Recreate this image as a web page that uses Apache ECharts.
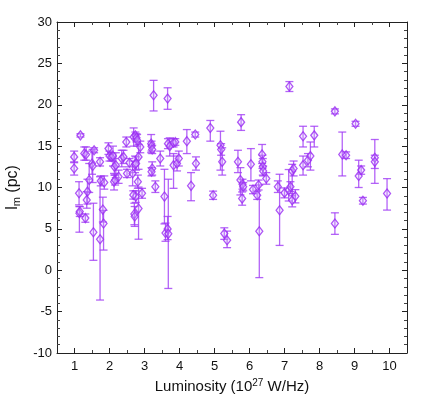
<!DOCTYPE html>
<html>
<head>
<meta charset="utf-8">
<script src="https://cdn.jsdelivr.net/npm/echarts@6/dist/echarts.min.js"></script>
<style>
  html, body { margin: 0; padding: 0; background: #fff; }
  #chart { width: 436px; height: 396px; }
</style>
</head>
<body>
<div id="chart"></div>
<script>
// luminosity (10^27 W/Hz), l_m (pc) and asymmetric errors
const lum = [
  0.99, 0.99, 1.17, 1.28, 1.33, 1.13, 1.37, 1.35, 1.14, 1.15, 1.31, 1.50, 1.52, 1.56, 1.54, 1.73, 1.73, 1.75, 1.85, 1.81, 1.83, 1.42,
  1.97, 2.00, 2.05, 2.10, 2.13, 2.16, 2.14, 2.18, 2.26, 2.35, 2.40, 2.48, 2.50, 2.57, 2.66, 2.69, 2.74, 2.77, 2.79, 2.88,
  2.73, 2.76, 2.81, 2.83, 2.71, 2.72, 2.75, 2.83, 2.93, 2.68,
  3.26, 3.66, 3.19, 3.20, 3.22, 3.22, 3.20, 3.31, 3.45, 3.57, 3.60, 3.66, 3.68, 3.67, 3.72, 3.83, 3.88, 3.83, 3.93, 3.98,
  4.21, 4.45, 4.33, 4.47, 4.88, 4.96,
  5.17, 5.19, 5.22, 5.28, 5.36, 5.76, 5.67, 5.74, 5.80, 5.82, 5.79,
  6.04, 6.10, 6.22, 6.26, 6.28, 6.36, 6.37, 6.38, 6.39, 6.48, 6.81, 6.86, 7.00, 7.12, 7.14, 7.17,
  7.22, 7.26, 7.22, 7.31, 7.53, 7.53, 7.67, 7.74, 7.85,
  8.44, 8.44, 8.65, 8.76, 9.03, 9.12, 9.19, 9.24, 9.58, 9.58, 9.93
];
const lm = [
  13.7, 12.3, 16.3, 14.1, 14.0, 9.3, 9.5, 8.5, 6.9, 7.1, 6.3, 12.9, 12.6, 14.5, 4.6, 13.1, 3.75, 10.8, 10.6, 7.33, 5.64, 10.9,
  14.7, 13.8, 13.7, 13.8, 10.7, 10.9, 12.5, 12.7, 11.3, 13.5, 13.7, 15.5, 11.7, 13.0, 11.7, 16.1, 16.3, 16.0, 15.7, 14.9,
  12.8, 12.9, 10.7, 13.7, 6.8, 6.5, 8.9, 7.45, 9.3, 9.1,
  21.15, 20.75, 15.3, 15.0, 14.6, 12.3, 11.9, 10.1, 13.5, 8.9, 4.5, 5.0, 4.4, 15.3, 15.0, 15.4, 15.5, 12.7, 12.9, 13.5,
  15.6, 16.4, 10.2, 12.9, 17.2, 9.06,
  15.1, 14.6, 13.1, 4.43, 3.63, 17.9, 13.1, 10.9, 10.4, 10.1, 8.66,
  12.8, 9.75, 9.06, 10.3, 4.71, 14.0, 13.1, 12.5, 12.0, 11.1, 10.1, 7.25, 9.35, 9.67, 22.2, 10.1,
  12.0, 12.3, 8.46, 8.94, 16.2, 12.7, 13.3, 13.8, 16.3,
  19.2, 5.64, 14.0, 13.9, 17.7, 11.4, 12.1, 8.4, 13.6, 13.1, 9.27
];
const errLow = [
  0.7, 0.8, 0.2, 0.8, 0.7, 1.4, 1.5, 1.0, 2.3, 0.6, 0.5, 1.3, 2.0, 0.3, 3.4, 0.5, 7.35, 0.6, 0.8, 1.5, 3.2, 1.5,
  0.7, 0.6, 0.5, 1.2, 1.0, 0.6, 1.0, 1.5, 0.8, 1.0, 0.8, 0.6, 0.5, 0.5, 1.5, 1.1, 0.4, 0.5, 0.7, 0.7,
  1.0, 0.8, 0.8, 1.5, 1.3, 1.2, 0.7, 3.7, 0.6, 0.5,
  1.9, 1.3, 1.1, 0.6, 0.5, 0.8, 0.5, 0.7, 0.9, 3.3, 1.0, 1.3, 6.6, 0.6, 1.2, 0.5, 0.4, 2.8, 0.9, 0.9,
  1.5, 0.3, 1.8, 0.8, 1.6, 0.5,
  3.0, 0.7, 1.6, 0.7, 0.9, 1.0, 1.3, 1.8, 0.6, 0.5, 0.8,
  2.0, 0.5, 0.5, 0.6, 5.6, 1.1, 0.8, 1.0, 0.6, 0.7, 0.7, 4.25, 0.6, 1.3, 0.6, 0.6,
  3.0, 0.9, 0.8, 0.8, 1.3, 1.2, 0.8, 1.7, 1.4,
  0.3, 1.3, 2.6, 0.4, 0.3, 1.4, 0.5, 0.4, 3.1, 0.8, 2.0
];
const errHigh = [
  0.7, 0.8, 0.2, 0.8, 0.9, 1.4, 1.5, 1.0, 0.8, 0.6, 0.5, 1.5, 2.0, 0.3, 3.5, 0.5, 7.55, 0.6, 0.8, 1.5, 1.6, 2.0,
  0.7, 0.6, 0.5, 1.2, 1.0, 0.6, 1.0, 1.5, 0.8, 1.0, 0.8, 0.6, 0.5, 0.5, 1.5, 1.1, 0.4, 0.5, 0.7, 0.7,
  1.0, 0.8, 0.8, 1.5, 1.3, 1.2, 0.7, 2.6, 0.6, 0.5,
  1.8, 1.3, 1.1, 0.6, 0.5, 0.8, 0.5, 0.7, 0.9, 3.3, 1.2, 1.5, 6.6, 0.6, 1.0, 0.5, 0.4, 1.4, 0.9, 0.9,
  1.4, 0.3, 1.6, 0.8, 0.9, 0.5,
  1.7, 0.7, 1.7, 0.7, 1.1, 0.9, 1.4, 1.5, 0.6, 0.5, 0.8,
  1.9, 0.5, 0.5, 0.6, 5.6, 1.2, 0.8, 1.0, 0.6, 0.7, 0.7, 4.35, 0.6, 2.5, 0.6, 0.6,
  0.8, 0.9, 0.8, 0.8, 1.2, 1.1, 0.8, 1.7, 1.1,
  0.3, 1.3, 2.7, 0.4, 0.3, 1.9, 0.5, 0.4, 2.2, 0.8, 1.8
];

const purple = '#9a2cf2';
const barColor = 'rgba(160, 60, 245, 0.8)';
const font = 'Liberation Sans, Arial, sans-serif';

const points = lum.map((x, i) => [x, lm[i]]);
const bars = lum.map((x, i) => [x, lm[i] - errLow[i], lm[i] + errHigh[i]]);

function renderErrorBar(params, api) {
  const x = api.value(0);
  const lo = api.coord([x, api.value(1)]);
  const hi = api.coord([x, api.value(2)]);
  const cap = 4;
  const style = { stroke: barColor, lineWidth: 1.3, fill: null };
  return {
    type: 'group',
    children: [
      { type: 'line', shape: { x1: lo[0], y1: lo[1], x2: hi[0], y2: hi[1] }, style },
      { type: 'line', shape: { x1: lo[0] - cap, y1: lo[1], x2: lo[0] + cap, y2: lo[1] }, style },
      { type: 'line', shape: { x1: hi[0] - cap, y1: hi[1], x2: hi[0] + cap, y2: hi[1] }, style }
    ]
  };
}

const tickIn = { show: true, inside: true, length: 5, lineStyle: { color: '#222' } };
const minorIn = { show: true, length: 3, lineStyle: { color: '#444' } };
const axisLine = { show: true, onZero: false, lineStyle: { color: '#222', width: 1 } };
// x ticks fall on whole numbers; the 0.5 / 10.5 ends carry no label
const intLabel = v => (Math.abs(v - Math.round(v)) < 1e-6 ? String(Math.round(v)) : '');

const chart = echarts.init(document.getElementById('chart'));
chart.setOption({
  backgroundColor: '#fff',
  animation: false,
  grid: { left: 57, right: 29, top: 22, bottom: 43, outerBoundsMode: 'none', containLabel: false },
  xAxis: [
    {
      type: 'value', min: 0.5, max: 10.5, splitNumber: 10,
      axisLine, axisTick: tickIn, minorTick: Object.assign({ splitNumber: 2 }, minorIn),
      splitLine: { show: false },
      axisLabel: { color: '#111', fontSize: 13, fontFamily: font, margin: 7, formatter: intLabel },
      name: '{a|Luminosity (10}{sup|27}{a| W/Hz)}',
      nameLocation: 'middle', nameGap: 25,
      nameTextStyle: {
        rich: {
          a: { fontSize: 15, fontFamily: font, color: '#111', lineHeight: 18 },
          sup: { fontSize: 10, fontFamily: font, color: '#111', verticalAlign: 'top', lineHeight: 18, padding: [0, 0, 8, 0] }
        }
      }
    },
    {
      type: 'value', position: 'top', min: 0.5, max: 10.5, splitNumber: 10,
      axisLine, axisTick: tickIn, minorTick: Object.assign({ splitNumber: 2 }, minorIn),
      splitLine: { show: false }, axisLabel: { show: false }
    }
  ],
  yAxis: [
    {
      type: 'value', min: -10, max: 30, interval: 5,
      axisLine, axisTick: tickIn, minorTick: Object.assign({ splitNumber: 5 }, minorIn),
      splitLine: { show: false },
      axisLabel: { color: '#111', fontSize: 13, fontFamily: font, margin: 5 },
      name: '{a|l}{sub|m}{a| (pc)}',
      nameLocation: 'middle', nameGap: 29, nameRotate: 90,
      nameTextStyle: {
        rich: {
          a: { fontSize: 16, fontFamily: font, color: '#111', lineHeight: 20 },
          sub: { fontSize: 11, fontFamily: font, color: '#111', verticalAlign: 'bottom', lineHeight: 20, padding: [6, 0, 0, 0] }
        }
      }
    },
    {
      type: 'value', position: 'right', min: -10, max: 30, interval: 5,
      axisLine, axisTick: tickIn, minorTick: Object.assign({ splitNumber: 5 }, minorIn),
      splitLine: { show: false }, axisLabel: { show: false }
    }
  ],
  series: [
    {
      type: 'custom',
      renderItem: renderErrorBar,
      data: bars,
      encode: { x: 0, y: [1, 2] },
      z: 2,
      silent: true
    },
    {
      type: 'scatter',
      data: points,
      symbol: 'diamond',
      symbolSize: [7, 9],
      itemStyle: { color: 'rgba(220, 190, 255, 0.35)', borderColor: purple, borderWidth: 1.3 },
      z: 3
    }
  ]
});
</script>
</body>
</html>
